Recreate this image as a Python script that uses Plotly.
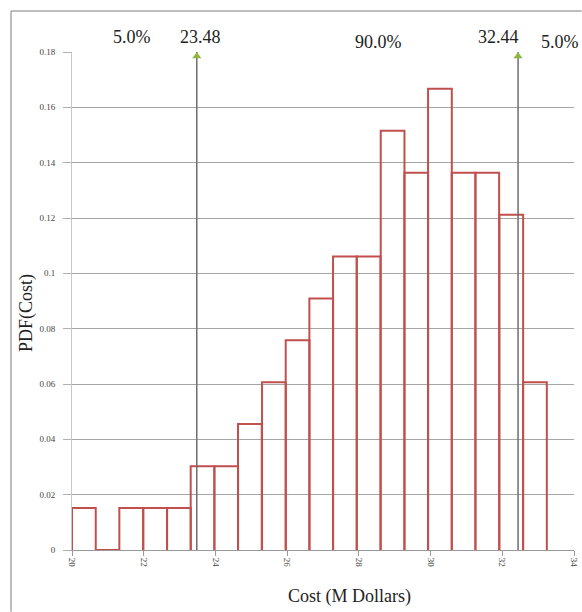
import plotly.graph_objects as go

# ---- data ----
bin_lower_edges = [20.00, 20.66, 21.32, 21.99, 22.65, 23.31, 23.97, 24.63, 25.30, 25.96,
                   26.62, 27.28, 27.94, 28.61, 29.27, 29.93, 30.59, 31.25, 31.92, 32.58]
bin_width = 0.662
pdf_values = [0.0152, 0.0, 0.0152, 0.0152, 0.0152, 0.0303, 0.0303, 0.0455, 0.0606, 0.0758,
              0.0909, 0.1061, 0.1061, 0.1515, 0.1364, 0.1667, 0.1364, 0.1364, 0.1212, 0.0606]
percentile_values = [23.48, 32.44]
percentile_labels = ["23.48", "32.44"]
region_labels = ["5.0%", "90.0%", "5.0%"]
region_label_x = [21.66, 28.56, 33.62]
y_tick_vals = [0, 0.02, 0.04, 0.06, 0.08, 0.1, 0.12, 0.14, 0.16, 0.18]
y_tick_text = ["0", "0.02", "0.04", "0.06", "0.08", "0.1", "0.12", "0.14", "0.16", "0.18"]
x_tick_vals = [20, 22, 24, 26, 28, 30, 32, 34]

FONT = "Liberation Serif, Times New Roman, serif"
RED = "#C0504D"

# histogram bar outlines (sides and top of each bin; an empty bin is a flat segment on the axis)
bx, by = [], []
for left, h in zip(bin_lower_edges, pdf_values):
    right = left + bin_width
    bx += [left, left, right, right, None]
    by += [0, h, h, 0, None]

fig = go.Figure()
fig.add_trace(go.Scatter(
    x=bx, y=by, mode="lines", line=dict(color=RED, width=2),
    showlegend=False, hoverinfo="skip", cliponaxis=False,
))

for v in percentile_values:
    fig.add_trace(go.Scatter(
        x=[v, v], y=[0, 0.18], mode="lines",
        line=dict(color="#6E6E6E", width=1.5), showlegend=False, cliponaxis=False,
    ))
fig.add_trace(go.Scatter(
    x=percentile_values, y=[0.1785, 0.1785], mode="markers",
    marker=dict(symbol="triangle-up", size=8, color="#8DB63C"),
    showlegend=False, cliponaxis=False,
))

annotations = []
for v, t in zip(percentile_values, percentile_labels):
    annotations.append(dict(
        x=v, y=1, xref="x", yref="paper", text=t, showarrow=False,
        xanchor="center" if t == "23.48" else "right",
        xshift=4 if t == "23.48" else 3,
        yanchor="middle", yshift=15,
        font=dict(family=FONT, size=18, color="#222222"),
    ))
for x, t, ys in zip(region_label_x, region_labels, [15, 10, 10]):
    annotations.append(dict(
        x=x, y=1, xref="x", yref="paper", text=t, showarrow=False,
        xanchor="center", yanchor="middle", yshift=ys,
        font=dict(family=FONT, size=18, color="#222222"),
    ))
annotations.append(dict(
    x=-0.0896, y=0.476, xref="paper", yref="paper", text="PDF(Cost)",
    textangle=-90, showarrow=False, xanchor="center", yanchor="middle",
    font=dict(family=FONT, size=18, color="#222222"),
))
annotations.append(dict(
    x=0.552, y=-0.094, xref="paper", yref="paper", text="Cost (M Dollars)",
    showarrow=False, xanchor="center", yanchor="middle",
    font=dict(family=FONT, size=18, color="#222222"),
))

# outer frame (left and top edges visible)
shapes = [
    dict(type="line", xref="paper", yref="paper", x0=-0.1215, x1=-0.1215, y0=-0.124, y1=1.0823,
         line=dict(color="#A8A8A8", width=1.5)),
    dict(type="line", xref="paper", yref="paper", x0=-0.1215, x1=1.015, y0=1.0823, y1=1.0823,
         line=dict(color="#A8A8A8", width=1.5)),
]

fig.update_layout(
    width=582, height=612,
    margin=dict(l=72, r=8, t=52, b=62),
    paper_bgcolor="white", plot_bgcolor="white",
    annotations=annotations, shapes=shapes,
    font=dict(family=FONT, color="#333333"),
)
fig.update_xaxes(
    range=[20, 34], tickvals=x_tick_vals, tickangle=90, automargin=False,
    showgrid=False, showline=True, linecolor="#9A9A9A", linewidth=1,
    ticks="outside", ticklen=5, tickcolor="#9A9A9A", layer="below traces",
    tickfont=dict(family=FONT, size=9, color="#444444"), zeroline=False,
)
fig.update_yaxes(
    range=[0, 0.18], tickvals=y_tick_vals, ticktext=y_tick_text, automargin=False,
    showgrid=True, gridcolor="#A6A6A6", gridwidth=1,
    showline=True, linecolor="#C8C8C8", linewidth=1, layer="below traces",
    ticks="outside", ticklen=8, tickcolor="#B0B0B0", ticklabelstandoff=6,
    tickfont=dict(family=FONT, size=9, color="#444444"), zeroline=False,
)

fig.write_html("out.html")
